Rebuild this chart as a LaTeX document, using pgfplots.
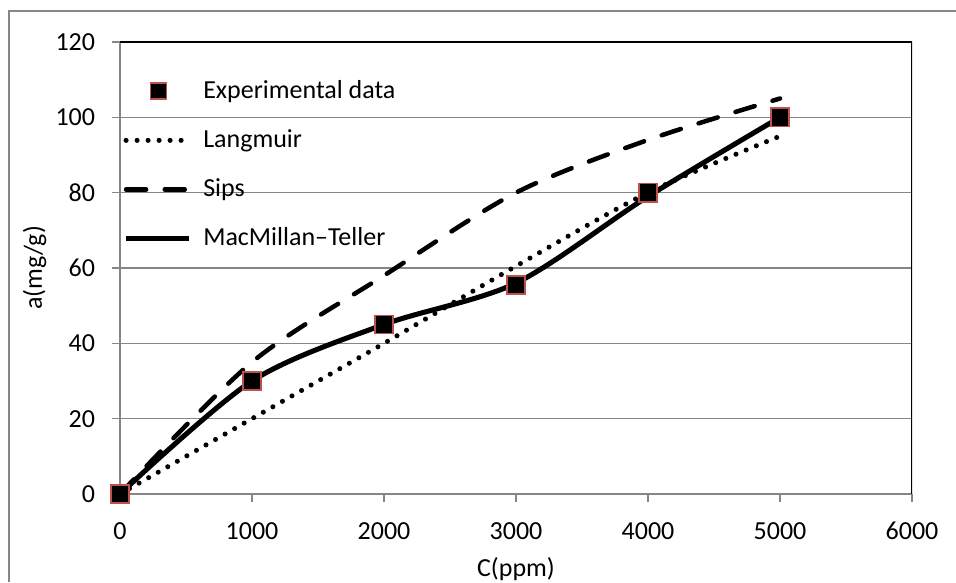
\documentclass[border=0pt]{standalone}
\usepackage{fontspec}
\setmainfont{Carlito}
\usepackage{pgfplots}
\pgfplotsset{compat=1.18}
\definecolor{gridgray}{RGB}{134,134,134}
\definecolor{mkred}{RGB}{192,80,77}
\pgfplotsset{
  linelegend/.style={legend image code/.code={\draw[##1] (2pt,0pt) -- (49pt,0pt);}},
}

\begin{document}
\fontsize{19.5}{23}\selectfont
\begin{tikzpicture}
\path[use as bounding box] (-90pt,-66pt) rectangle (627pt,370.5pt);
\draw[gridgray, line width=0.8pt] (-83.25pt,-66pt) -- (-83.25pt,362.25pt) -- (627pt,362.25pt);
\begin{axis}[
  at={(0,0)}, anchor=south west,
  scale only axis, width=594pt, height=339pt,
  xmin=0, xmax=6000, ymin=0, ymax=120,
  xtick={0,1000,...,6000}, ytick={0,20,...,120},
  scaled ticks=false,
  /pgf/number format/.cd, 1000 sep={}, assume math mode=true,
  /pgfplots/.cd,
  axis lines=left,
  axis line style={-, gridgray, line width=1.2pt},
  ymajorgrids, grid style={gridgray, line width=1pt},
  tick align=outside, major tick length=6pt,
  tick style={gridgray, line width=1pt},
  ticklabel style={font=\fontsize{19.5}{23}\selectfont},
  xticklabel style={yshift=-8.5pt},
  yticklabel style={xshift=-6pt},
  xlabel={C(ppm)}, ylabel={a(mg/g)},
  label style={font=\fontsize{19.5}{23}\selectfont},
  xlabel style={at={(axis description cs:0.5,0)}, anchor=center, yshift=-56pt},
  ylabel style={at={([xshift=-64pt]axis description cs:0,0.5)}, anchor=center},
  legend style={at={(axis description cs:0.004,0.922)}, anchor=north west,
    draw=none, fill=none, inner sep=0pt, row sep=16.5pt,
    /tikz/every odd column/.append style={column sep=7pt},
    font=\fontsize{19.5}{23}\selectfont, legend cell align=left},
]
\addlegendimage{legend image code/.code={
  \path[draw=none] (0pt,0pt) -- (49pt,0pt);
  \draw[fill=black, draw=mkred, line width=1.1pt, solid] (20.5pt,-6pt) rectangle (32.5pt,6pt);}}
\addlegendentry{Experimental data}

\addplot[black, line width=3.8pt, line cap=round, dash pattern=on 0pt off 8.25pt, smooth, linelegend]
  coordinates {(0,0) (1000,20) (2000,40) (3000,60.5) (4000,80) (5000,95)};
\addlegendentry{Langmuir}

\addplot[black, line width=3.4pt, line cap=round, dash pattern=on 15pt off 14pt, smooth, linelegend]
  coordinates {(0,0) (1000,35) (2000,58) (3000,80) (4000,94) (5000,105)};
\addlegendentry{Sips}

\addplot[black, line width=3.8pt, smooth, linelegend]
  coordinates {(0,0) (1000,30) (2000,45) (3000,56) (4000,79) (5000,100)};
\addlegendentry{MacMillan–Teller}

\addplot[only marks, mark=square*, mark size=6.8pt, forget plot,
  mark options={fill=black, draw=mkred, line width=1.2pt}]
  coordinates {(0,0) (1000,30) (2000,45) (3000,55.5) (4000,80) (5000,100)};

\draw[black, line width=1.1pt] (rel axis cs:0,1) -- (rel axis cs:1,1) -- (rel axis cs:1,0);
\end{axis}
\end{tikzpicture}
\end{document}
